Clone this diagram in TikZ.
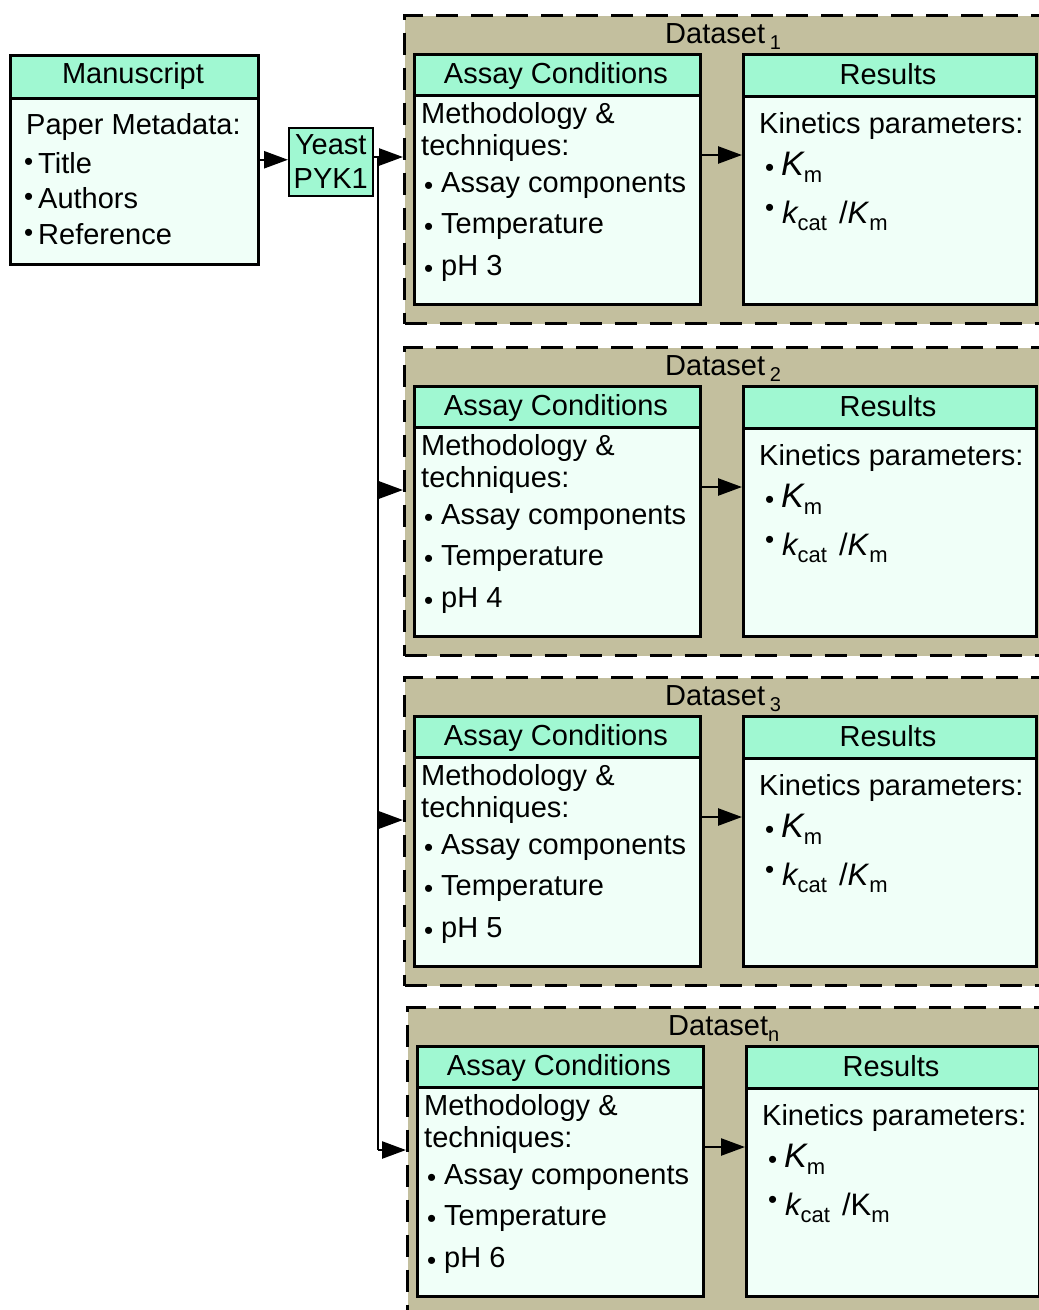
\documentclass[tikz,border=0pt]{standalone}
\usepackage{fontspec}
\setmainfont{Liberation Sans}
\usetikzlibrary{arrows.meta}
\definecolor{headc}{RGB}{160,248,210}
\definecolor{bodyc}{RGB}{240,255,248}
\definecolor{khaki}{RGB}{195,191,158}
\newcommand{\bu}[2][-2pt]{\makebox[#2][l]{\raisebox{#1}{\fontsize{26}{26}\selectfont •}}}
\newcommand{\sbs}[1]{\raisebox{-6pt}{\fontsize{20}{20}\selectfont #1}}
\newcommand{\sbm}[1]{\raisebox{-7pt}{\fontsize{22}{22}\selectfont #1}}
\newcommand{\bigK}{{\fontsize{34}{34}\selectfont\itshape K}}
\newcommand{\midk}[1]{{\fontsize{31}{31}\selectfont #1}}
\begin{document}
\begin{tikzpicture}[x=1pt,y=-1pt,
  every node/.style={font=\fontsize{29}{34}\selectfont, inner sep=0pt},
  box/.style={draw, line width=2.5pt, fill=bodyc, anchor=north west, inner sep=0pt},
  hdr/.style={draw, line width=2.5pt, fill=headc, anchor=north west, inner sep=0pt},
  dsbox/.style={draw, line width=3pt, dash pattern=on 22pt off 13pt, fill=khaki, anchor=north west},
  txt/.style={anchor=base west},
  ctxt/.style={anchor=base},
  arr/.style={line width=2.5pt, -{Triangle[length=24pt,width=17pt]}},
  conn/.style={line width=2.5pt}
]
\useasboundingbox (0,0) rectangle (1039,1310);

% Manuscript
\node[box, minimum width=248pt, minimum height=209pt] (ms) at (9,54) {};
\node[hdr, minimum width=248pt, minimum height=43pt] (msh) at (9,54) {};
\node[ctxt] (mst) at (133,83) {Manuscript};
\node[txt] (m1) at (26,134) {Paper Metadata:};
\node[txt] (m2) at (24,173) {\bu[2.5pt]{14pt}Title};
\node[txt] (m3) at (24,208) {\bu[2.5pt]{14pt}Authors};
\node[txt] (m4) at (24,244) {\bu[2.5pt]{14pt}Reference};

% Yeast
\node[hdr, line width=1.5pt, minimum width=84pt, minimum height=68pt, align=center] (yeast) at (288,127) {Yeast\\PYK1};

\draw[arr] (ms.east) -- (ms.east -| yeast.west);

\coordinate (j1) at (378,157);
\coordinate (j2) at (378,490);
\coordinate (j3) at (378,820);
\coordinate (jn) at (378,1150);

\foreach \i/\oy/\ox/\lab/\kk/\ph in {1/0/0/{\,\sbs{1}}/\textit{K}/3, 2/332/0/{\,\sbs{2}}/\textit{K}/4, 3/662/0/{\,\sbs{3}}/\textit{K}/5, n/992/3/{\sbs{n}}/K/6}{
  \node[dsbox, minimum width=660pt, minimum height=308pt] (ds\i) at (403+\ox,14+\oy) {};
  \node[txt] (dl\i) at (665+\ox,43+\oy) {Dataset\lab};
  % Assay conditions
  \node[box, minimum width=286pt, minimum height=250pt] (ac\i) at (413+\ox,53+\oy) {};
  \node[hdr, minimum width=286pt, minimum height=41pt] (ach\i) at (413+\ox,53+\oy) {};
  \node[ctxt] (act\i) at (556+\ox,83+\oy) {Assay Conditions};
  \node[txt] (a1\i) at (421+\ox,123+\oy) {Methodology \&};
  \node[txt] (a2\i) at (421+\ox,155+\oy) {techniques:};
  \node[txt] (a3\i) at (424+\ox,192+\oy) {\bu{17pt}Assay components};
  \node[txt] (a4\i) at (424+\ox,233+\oy) {\bu{17pt}Temperature};
  \node[txt] (a5\i) at (424+\ox,275+\oy) {\bu{17pt}pH \ph};
  % Results
  \node[box, minimum width=293pt, minimum height=250pt] (rs\i) at (742+\ox,53+\oy) {};
  \node[hdr, minimum width=293pt, minimum height=42pt] (rsh\i) at (742+\ox,53+\oy) {};
  \node[ctxt] (rst\i) at (888+\ox,84+\oy) {Results};
  \node[txt] (r1\i) at (759+\ox,133+\oy) {Kinetics parameters:};
  \node[txt] (r2\i) at (765+\ox,175+\oy) {\bu[-1.5pt]{16pt}\bigK\sbm{m}};
  \node[txt] (r3\i) at (765+\ox,223+\oy) {\bu[7pt]{17pt}\midk{\itshape k}\sbm{cat}\hspace{12pt}\midk{/\kk}\sbm{m}};
  \coordinate (mid\i) at (720+\ox,155+\oy);
  \draw[arr] (ac\i.east |- mid\i) -- (rs\i.west |- mid\i);
  \draw[arr] (j\i) -- (ds\i.west |- j\i);
}

\draw[conn] (yeast.east |- j1) -- (j1);
\draw[conn] (j1) -- (jn);

\end{tikzpicture}
\end{document}
